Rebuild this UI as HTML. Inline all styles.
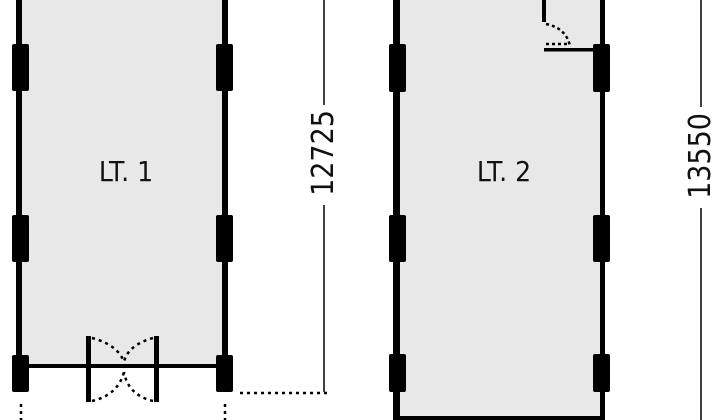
<!DOCTYPE html>
<html><head><style>
html,body{margin:0;padding:0;background:#fff;width:720px;height:420px;overflow:hidden}
svg text{font-family:"DejaVu Sans Condensed","DejaVu Sans","Liberation Sans",sans-serif;fill:#111}
</style></head><body>
<svg width="720" height="420" viewBox="0 0 720 420" xmlns="http://www.w3.org/2000/svg">
<!-- LT1 -->
<rect x="20" y="0" width="205" height="366" fill="#e8e8e8"/>
<rect x="16" y="0" width="6" height="366" fill="#000"/>
<rect x="222" y="0" width="6" height="366" fill="#000"/>
<rect x="28" y="364" width="190" height="4" fill="#000"/>
<g fill="#000">
<rect x="12" y="44" width="17" height="47" rx="2"/>
<rect x="12" y="215" width="17" height="47" rx="2"/>
<rect x="12" y="355" width="17" height="37" rx="2"/>
<rect x="216" y="44" width="17" height="47" rx="2"/>
<rect x="216" y="215" width="17" height="47" rx="2"/>
<rect x="216" y="355" width="17" height="37" rx="2"/>
<rect x="86" y="336" width="5" height="66"/>
<rect x="154" y="336" width="5" height="66"/>
</g>
<g fill="none" stroke="#000" stroke-width="2.5" stroke-dasharray="3,4">
<path d="M92 338 Q118 345 124 362"/>
<path d="M153 338 Q128 345 124 362"/>
<path d="M92 401 Q118 395 124 372"/>
<path d="M153 401 Q128 395 124 372"/>
<path d="M21 404 V420"/>
<path d="M225 404 V420"/>
<path d="M240 393 H330"/>
</g>
<line x1="324" y1="0" x2="324" y2="105" stroke="#000" stroke-width="1.5"/>
<line x1="324" y1="205" x2="324" y2="392" stroke="#000" stroke-width="1.5"/>
<text x="126" y="181" font-size="28" text-anchor="middle">LT. 1</text>
<text transform="translate(333,153) rotate(-90)" font-size="30" text-anchor="middle">12725</text>
<!-- LT2 -->
<rect x="398" y="0" width="205" height="418" fill="#e8e8e8"/>
<rect x="393" y="0" width="7" height="420" fill="#000"/>
<rect x="600" y="0" width="5" height="420" fill="#000"/>
<rect x="396" y="416" width="208" height="4" fill="#000"/>
<rect x="542" y="0" width="4" height="22" fill="#000"/>
<rect x="544" y="48" width="55" height="3.5" fill="#000"/>
<g fill="none" stroke="#000" stroke-width="2.5" stroke-dasharray="3,3">
<path d="M546 24 Q566 28 570 46"/>
<path d="M546 44 H568"/>
</g>
<g fill="#000">
<rect x="389" y="44" width="17" height="48" rx="2"/>
<rect x="389" y="215" width="17" height="47" rx="2"/>
<rect x="389" y="354" width="17" height="38" rx="2"/>
<rect x="593" y="44" width="17" height="48" rx="2"/>
<rect x="593" y="215" width="17" height="47" rx="2"/>
<rect x="593" y="354" width="17" height="38" rx="2"/>
</g>
<line x1="701" y1="0" x2="701" y2="107" stroke="#000" stroke-width="1.5"/>
<line x1="701" y1="208" x2="701" y2="420" stroke="#000" stroke-width="1.5"/>
<text x="504" y="181" font-size="28" text-anchor="middle">LT. 2</text>
<text transform="translate(710,156) rotate(-90)" font-size="30" text-anchor="middle">13550</text>
</svg>
</body></html>
